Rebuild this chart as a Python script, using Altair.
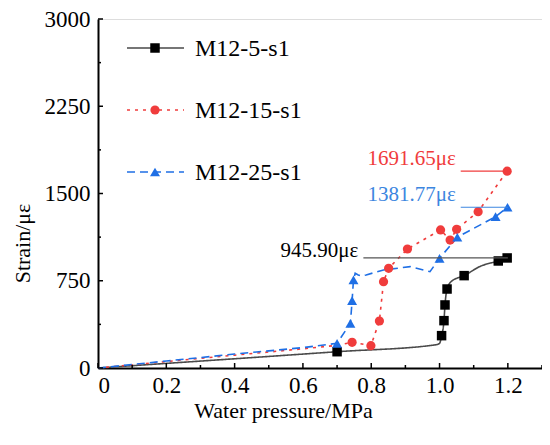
import altair as alt
import pandas as pd

# ---------------- data ----------------
SERIES = ["M12-5-s1", "M12-15-s1", "M12-25-s1"]
MARKER_COLORS = ["#000000", "#F03C3C", "#1F6FE5"]
LINE_COLORS = ["#4a4a4a", "#F03C3C", "#1F6FE5"]
SHAPES = ["square", "circle", "triangle-up"]
DASHES = [[1, 0], [3, 5], [8, 5]]

# traced curves (pressure MPa, strain με)
black_x = [0, 0.70, 0.99, 1.0, 1.006, 1.013, 1.016, 1.022, 1.035, 1.072, 1.12, 1.172, 1.198]
black_y = [0, 140, 200, 212, 278, 407, 542, 679, 745, 794, 875, 920, 946]
red_x = [0, 0.2, 0.4, 0.6, 0.7, 0.744, 0.799, 0.824, 0.836, 0.851, 0.906, 1.003, 1.031, 1.050, 1.113, 1.198]
red_y = [0, 55, 110, 165, 195, 221, 192, 404, 742, 857, 1023, 1187, 1100, 1192, 1344, 1692]
blue_x = [0, 0.2, 0.4, 0.6, 0.7, 0.739, 0.744, 0.748, 0.753, 0.762, 0.772, 0.785, 0.836, 0.914, 0.972, 1.0, 1.052, 1.164, 1.199]
blue_y = [0, 60, 120, 175, 212, 384, 579, 757, 814, 800, 790, 800, 843, 871, 828, 943, 1124, 1301, 1382]

# marker points
black_mx = [0.70, 1.006, 1.013, 1.016, 1.022, 1.072, 1.172, 1.198]
black_my = [140, 278, 407, 542, 679, 794, 920, 946]
red_mx = [0.744, 0.799, 0.824, 0.836, 0.851, 0.906, 1.003, 1.031, 1.050, 1.113, 1.198]
red_my = [221, 192, 404, 742, 857, 1023, 1187, 1100, 1192, 1344, 1692]
blue_mx = [0.700, 0.739, 0.744, 0.748, 1.0, 1.052, 1.164, 1.199]
blue_my = [212, 384, 579, 757, 943, 1124, 1301, 1382]

# peak annotations
peak_values = [945.90, 1691.65, 1381.77]
peak_labels = ["945.90με", "1691.65με", "1381.77με"]
peak_x0 = [0.777, 1.062, 1.062]
peak_x1 = [1.2, 1.2, 1.2]
PEAK_COLORS = ["#000000", "#F03C3C", "#3C86E0"]
PEAK_LINE_COLORS = ["#555555", "#F03C3C", "#3C86E0"]

x_major = [0, 0.2, 0.4, 0.6, 0.8, 1.0, 1.2]
x_minor = [0.1, 0.3, 0.5, 0.7, 0.9, 1.1, 1.3]
y_major = [0, 750, 1500, 2250, 3000]
y_minor = [375, 1125, 1875, 2625]

# ---------------- layout ----------------
W, H = 444, 349
FONT = "Liberation Serif, Times New Roman, serif"

xscale = alt.Scale(domain=[0, 1.3], nice=False)
yscale = alt.Scale(domain=[0, 3000], nice=False)
x_axis = alt.Axis(values=x_major, labelExpr="datum.value == 0 ? '0' : format(datum.value, '.1f')",
                  ticks=False, grid=False, domainColor="black", domainWidth=2,
                  labelFont=FONT, labelFontSize=23, labelColor="black", labelPadding=6,
                  titleFont=FONT, titleFontSize=22, titleFontWeight="normal", titleColor="black",
                  titleX=185, titleY=49, titleBaseline="alphabetic", titleAnchor="middle")
y_axis = alt.Axis(values=y_major, format="d",
                  ticks=False, grid=False, domainColor="black", domainWidth=2,
                  labelFont=FONT, labelFontSize=23, labelColor="black", labelPadding=8,
                  titleFont=FONT, titleFontSize=22, titleFontWeight="normal", titleColor="black",
                  titleX=-76, titleY=224, titleBaseline="middle", titleAngle=-90, titleAnchor="middle")
X = alt.X("x:Q", scale=xscale, axis=x_axis, title="Water pressure/MPa")
Y = alt.Y("y:Q", scale=yscale, axis=y_axis, title="Strain/με")

layers = []

traces = [(black_x, black_y), (red_x, red_y), (blue_x, blue_y)]
marks = [(black_mx, black_my), (red_mx, red_my), (blue_mx, blue_my)]
interps = ["monotone", "linear", "linear"]
MSIZE = [90, 85, 100]

for i in range(3):
    lx, ly = traces[i]
    df = pd.DataFrame({"x": lx, "y": ly, "o": list(range(len(lx)))})
    layers.append(
        alt.Chart(df).mark_line(color=LINE_COLORS[i], strokeWidth=1.6, strokeDash=DASHES[i],
                                interpolate=interps[i])
        .encode(x=X, y=Y, order="o:Q")
    )

for i in range(3):
    mx, my = marks[i]
    df = pd.DataFrame({"x": mx, "y": my})
    layers.append(
        alt.Chart(df).mark_point(shape=SHAPES[i], filled=True, opacity=1,
                                 color=MARKER_COLORS[i], size=MSIZE[i])
        .encode(x=X, y=Y)
    )

# peak reference lines and labels
pk = pd.DataFrame({"x": peak_x0, "x1": peak_x1, "y": peak_values, "label": peak_labels})
for i in range(3):
    d = pk.iloc[[i]]
    layers.append(
        alt.Chart(d).mark_rule(color=PEAK_LINE_COLORS[i], strokeWidth=1.2)
        .encode(x=X, x2="x1:Q", y=Y)
    )
    layers.append(
        alt.Chart(d).mark_text(align="right", baseline="alphabetic", dx=-5, dy=(-1 if i == 0 else -6),
                               font=FONT, fontSize=21, color=PEAK_COLORS[i])
        .encode(x=X, y=Y, text="label:N")
    )

# inward ticks
for vals, ln in [(x_major, 5), (x_minor, 3)]:
    layers.append(
        alt.Chart(pd.DataFrame({"x": vals})).mark_rule(color="black", strokeWidth=1.5)
        .encode(x=X, y=alt.value(H), y2=alt.value(H - ln))
    )
for vals, ln in [(y_major, 5), (y_minor, 3)]:
    layers.append(
        alt.Chart(pd.DataFrame({"y": vals})).mark_rule(color="black", strokeWidth=1.5)
        .encode(y=Y, x=alt.value(0), x2=alt.value(ln))
    )

# manual legend
leg_rows = [29, 91, 153]
dummy = pd.DataFrame({"k": [0]})
for i in range(3):
    ry = leg_rows[i]
    layers.append(
        alt.Chart(dummy).mark_rule(color=LINE_COLORS[i], strokeWidth=1.6, strokeDash=DASHES[i])
        .encode(x=alt.value(29), x2=alt.value(86), y=alt.value(ry))
    )
    layers.append(
        alt.Chart(dummy).mark_point(shape=SHAPES[i], filled=True, opacity=1,
                                    color=MARKER_COLORS[i], size=MSIZE[i])
        .encode(x=alt.value(57), y=alt.value(ry))
    )
    layers.append(
        alt.Chart(dummy).mark_text(align="left", baseline="middle", font=FONT, fontSize=24, color="black",
                                   text=SERIES[i])
        .encode(x=alt.value(97), y=alt.value(ry + 1))
    )

chart = alt.layer(*layers).properties(
    width=W, height=H,
    autosize=alt.AutoSizeParams(type="none"),
    padding={"left": 90, "top": 11, "right": 0, "bottom": 60},
).configure_view(stroke=None).configure(background="white", font=FONT)

chart.save("out.html", embed_options={"renderer": "svg", "actions": False})
